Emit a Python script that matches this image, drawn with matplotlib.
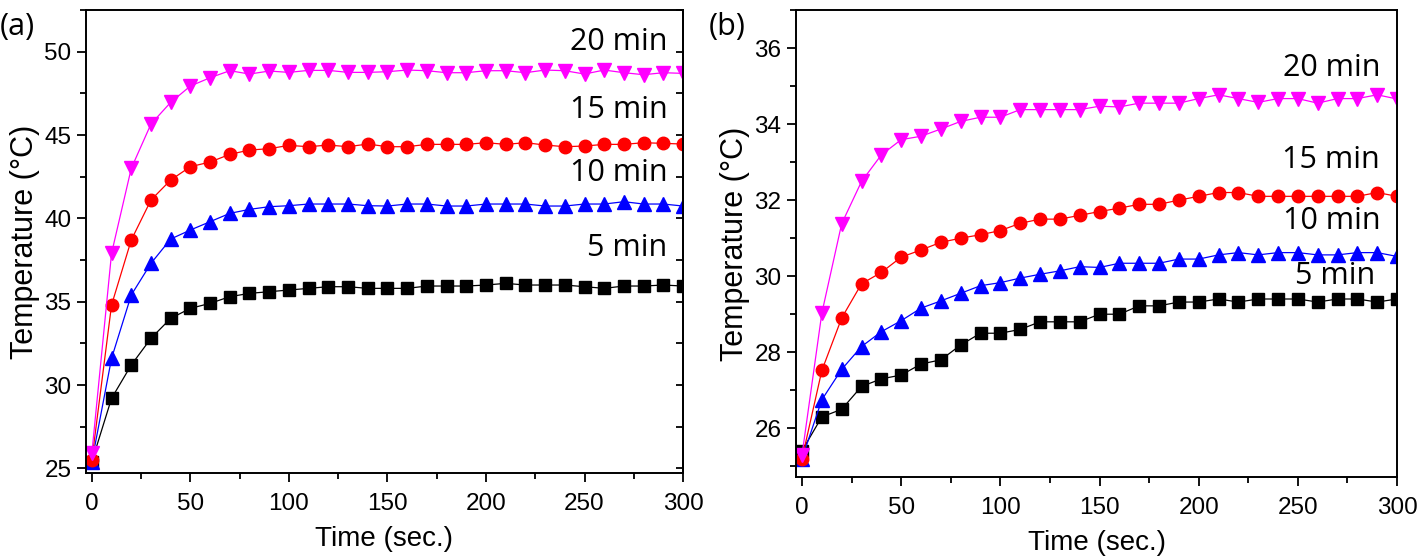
import matplotlib

matplotlib.use("Agg")
import matplotlib.pyplot as plt
from matplotlib.ticker import MultipleLocator

plt.rcParams["font.family"] = ["Liberation Sans", "DejaVu Sans"]

t = [0, 10, 20, 30, 40, 50, 60, 70, 80, 90, 100, 110, 120, 130, 140, 150,
     160, 170, 180, 190, 200, 210, 220, 230, 240, 250, 260, 270, 280, 290, 300]

# panel (a)
a_5 = [25.4, 29.2, 31.2, 32.8, 34.0, 34.6, 34.9, 35.3, 35.5, 35.6, 35.7, 35.8, 35.9, 35.9, 35.8, 35.8,
       35.8, 35.94, 35.94, 35.94, 36.0, 36.1, 36.0, 36.0, 36.0, 35.9, 35.8, 35.94, 35.94, 36.0, 35.94]
a_10 = [25.4, 31.6, 35.4, 37.3, 38.76, 39.3, 39.8, 40.3, 40.54, 40.7, 40.76, 40.86, 40.86, 40.86, 40.76, 40.74,
        40.86, 40.86, 40.74, 40.74, 40.86, 40.86, 40.86, 40.74, 40.74, 40.86, 40.86, 41.0, 40.86, 40.86, 40.74]
a_15 = [25.5, 34.8, 38.7, 41.1, 42.3, 43.1, 43.38, 43.84, 44.1, 44.18, 44.38, 44.3, 44.4, 44.3, 44.46, 44.3,
        44.3, 44.44, 44.44, 44.44, 44.54, 44.44, 44.54, 44.4, 44.3, 44.34, 44.44, 44.44, 44.54, 44.5, 44.46]
a_20 = [25.9, 37.9, 43.0, 45.66, 46.96, 47.94, 48.44, 48.86, 48.66, 48.84, 48.76, 48.88, 48.88, 48.76, 48.76, 48.8,
        48.9, 48.86, 48.74, 48.74, 48.86, 48.86, 48.74, 48.9, 48.86, 48.66, 48.9, 48.74, 48.62, 48.74, 48.7]

# panel (b)
b_5 = [25.41, 26.3, 26.5, 27.1, 27.3, 27.4, 27.69, 27.8, 28.19, 28.5, 28.5, 28.6, 28.8, 28.8, 28.8, 29.0,
       29.0, 29.22, 29.22, 29.32, 29.32, 29.4, 29.32, 29.4, 29.4, 29.4, 29.32, 29.4, 29.4, 29.32, 29.4]
b_10 = [25.2, 26.75, 27.55, 28.15, 28.54, 28.83, 29.16, 29.35, 29.55, 29.75, 29.83, 29.95, 30.05, 30.14, 30.25, 30.23,
        30.34, 30.34, 30.34, 30.45, 30.45, 30.56, 30.62, 30.56, 30.62, 30.62, 30.56, 30.56, 30.62, 30.62, 30.52]
b_15 = [25.2, 27.52, 28.9, 29.8, 30.1, 30.5, 30.69, 30.89, 31.0, 31.09, 31.2, 31.39, 31.5, 31.5, 31.6, 31.7,
        31.79, 31.89, 31.89, 32.0, 32.1, 32.2, 32.2, 32.1, 32.1, 32.1, 32.1, 32.1, 32.1, 32.2, 32.1]
b_20 = [25.3, 29.03, 31.38, 32.49, 33.19, 33.59, 33.68, 33.87, 34.07, 34.18, 34.18, 34.38, 34.38, 34.38, 34.38, 34.47,
        34.45, 34.55, 34.55, 34.55, 34.67, 34.77, 34.67, 34.57, 34.67, 34.67, 34.55, 34.67, 34.67, 34.77, 34.66]

labels = ["5 min", "10 min", "15 min", "20 min"]
colors = ["black", "blue", "red", "magenta"]
markers = ["s", "^", "o", "v"]
sizes = [8, 9.5, 9, 9.5]

fig = plt.figure(figsize=(14.18, 5.58), dpi=100)
axa = fig.add_axes([0.0606, 0.1523, 0.4211, 0.8297])
axb = fig.add_axes([0.5614, 0.1452, 0.4238, 0.8369])

panels = [
    (axa, [a_5, a_10, a_15, a_20], (24.72, 52.5), 5, 2.5,
     [(292, 38.2), (292, 42.7), (292, 46.5), (292, 50.6)], "(a)", 0.0),
    (axb, [b_5, b_10, b_15, b_20], (24.72, 37.0), 2, 1,
     [(289, 30.0), (291.5, 31.45), (291.5, 33.05), (291.5, 35.47)], "(b)", 0.5),
]

for ax, series, ylim, major, minor, txt, tag, tx in panels:
    for ys, c, m, ms in zip(series, colors, markers, sizes):
        ax.plot(t, ys, color=c, marker=m, ms=ms, lw=0.9, mec=c)
    for (x, y), lab in zip(txt, labels):
        ax.text(x, y, lab, ha="right", va="center", fontsize=22, family=["Open Sans", "DejaVu Sans"])
    ax.set_xlim(-3, 300)
    ax.set_ylim(*ylim)
    ax.xaxis.set_major_locator(MultipleLocator(50))
    ax.xaxis.set_minor_locator(MultipleLocator(25))
    ax.yaxis.set_major_locator(MultipleLocator(major))
    ax.yaxis.set_minor_locator(MultipleLocator(minor))
    ax.tick_params(which="both", direction="out", top=False, right=False, labelsize=17.5, width=1.3)
    ax.tick_params(which="major", length=6.5)
    ax.tick_params(which="minor", length=4)
    ax.tick_params(axis="x", which="major", pad=8)
    ax.tick_params(axis="y", which="major", pad=4)
    for sp in ax.spines.values():
        sp.set_linewidth(1.4)
    ax.set_xlabel("Time (sec.)", fontsize=20, labelpad=8)
    ax.set_ylabel("Temperature (\u00b0C)", fontsize=22, labelpad=3)
    fig.text(tx, 0.978, tag, fontsize=22, va="top", ha="left", family=["Open Sans", "DejaVu Sans"])

# inward minor ticks on the right spine of panel (a)
sec = axa.secondary_yaxis("right")
sec.yaxis.set_major_locator(MultipleLocator(100))
sec.yaxis.set_minor_locator(MultipleLocator(2.5))
sec.tick_params(which="both", direction="in", labelright=False, width=1.3)
sec.tick_params(which="major", length=0)
sec.tick_params(which="minor", length=5)
sec.spines["right"].set_linewidth(1.4)

fig.savefig("out.png", dpi=100)
